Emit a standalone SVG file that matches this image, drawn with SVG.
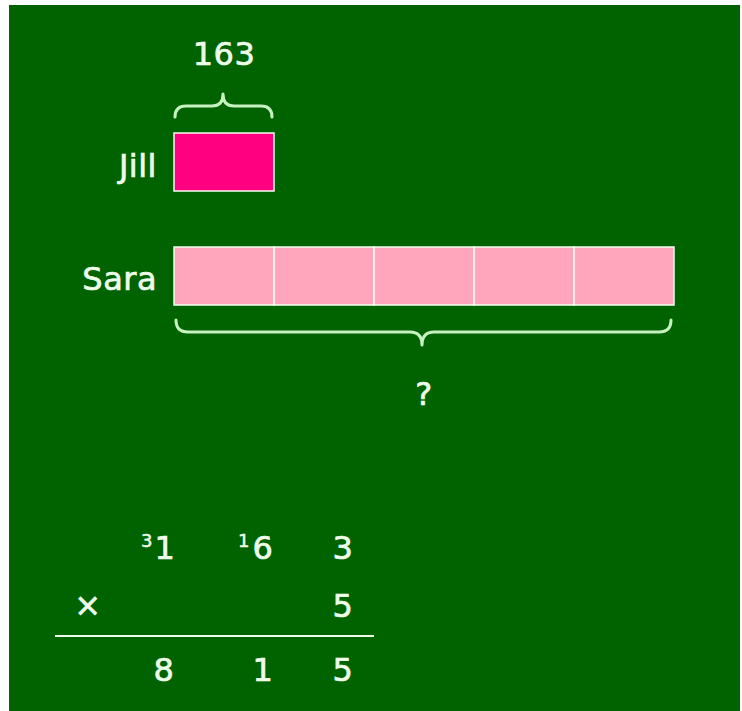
<svg xmlns="http://www.w3.org/2000/svg" width="742" height="711" viewBox="0 0 742 711">
<style>
.t{font-family:"DejaVu Sans",Verdana,sans-serif;fill:#eefdea;stroke:#eefdea;stroke-width:0.7;font-size:32px;letter-spacing:0.5px}
.m{text-anchor:middle}
.e{text-anchor:end}
.s{font-size:18px;stroke-width:0.5}
.br{fill:none;stroke:#c6f2c0;stroke-width:3;stroke-linecap:round;stroke-linejoin:round}
.cell{fill:#ffa6bc;stroke:#f4fff0;stroke-width:1.5}
</style>
<rect x="0" y="0" width="742" height="711" fill="#ffffff"/>
<rect x="9" y="5" width="731" height="706" fill="#006300"/>
<g id="jill">
<text class="t e" x="157" y="177">Jill</text>
<rect x="174" y="133" width="100" height="58" fill="#ff0080" stroke="#f4fff0" stroke-width="1.5"/>
</g>
<g id="jill-brace">
<path class="br" d="M175,117 Q175,106 186,106 L212,106 Q223,106 223,94 Q223,106 234,106 L261,106 Q272,106 272,117"/>
<text class="t m" x="224" y="65">163</text>
</g>
<g id="sara">
<text class="t e" x="157" y="290">Sara</text>
<rect class="cell" x="174" y="247" width="100" height="58"/>
<rect class="cell" x="274" y="247" width="100" height="58"/>
<rect class="cell" x="374" y="247" width="100" height="58"/>
<rect class="cell" x="474" y="247" width="100" height="58"/>
<rect class="cell" x="574" y="247" width="100" height="58"/>
</g>
<g id="sara-brace">
<path class="br" d="M176,320 Q176,332 188,332 L410,332 Q422,332 422,345 Q422,332 434,332 L659,332 Q671,332 671,320"/>
<text class="t m" x="424" y="405">?</text>
</g>
<g id="calc">
<text class="t s m" x="147" y="547">3</text>
<text class="t m" x="165" y="559">1</text>
<text class="t s m" x="244" y="547">1</text>
<text class="t m" x="263" y="559">6</text>
<text class="t m" x="343" y="559">3</text>
<text class="t m" x="88" y="616">×</text>
<text class="t m" x="343" y="617">5</text>
<line x1="55" y1="636" x2="374" y2="636" stroke="#eefdea" stroke-width="2"/>
<text class="t m" x="164" y="681">8</text>
<text class="t m" x="263" y="681">1</text>
<text class="t m" x="343" y="681">5</text>
</g>
</svg>
